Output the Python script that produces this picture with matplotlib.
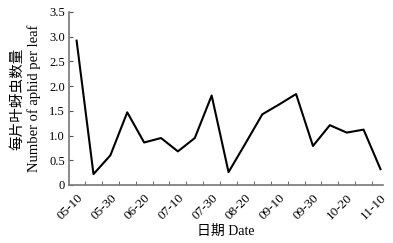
import matplotlib
matplotlib.use("Agg")
import numpy as np
import matplotlib.pyplot as plt

plt.rcParams['font.family'] = ['Liberation Serif', 'Noto Sans CJK SC']

dates = ['05-10', '05-20', '05-30', '06-10', '06-20', '06-30', '07-10', '07-20',
         '07-30', '08-10', '08-20', '08-30', '09-10', '09-20', '09-30', '10-10',
         '10-20', '10-30', '11-10']
aphids = [2.92, 0.22, 0.60, 1.47, 0.86, 0.95, 0.68, 0.95, 1.81, 0.26,
          0.84, 1.43, 1.63, 1.84, 0.79, 1.21, 1.06, 1.12, 0.32]
yticks = [0, 0.5, 1.0, 1.5, 2.0, 2.5, 3.0, 3.5]
ytick_labels = ['0', '0.5', '1.0', '1.5', '2.0', '2.5', '3.0', '3.5']

fig = plt.figure(figsize=(3.93, 2.43), dpi=100)
ax = fig.add_axes([0.1756, 0.2387, 0.799, 0.712])

x = np.arange(len(dates))
ax.plot(x, aphids, color='black', lw=1.5)

ax.set_xlim(-0.45, 18.15)
ax.set_ylim(0, 3.5)
ax.spines['right'].set_visible(False)
ax.spines['top'].set_visible(False)
for s in ['left', 'bottom']:
    ax.spines[s].set_color('#777777')
    ax.spines[s].set_linewidth(1.2)

ax.set_yticks(yticks)
ax.set_yticklabels(ytick_labels, fontsize=9)
ax.set_xticks(x[::2])
ax.set_xticklabels(dates[::2], fontsize=9.5, rotation=45, ha='right', va='top',
                   rotation_mode='anchor')
ax.set_xticks(x[:-1] + 0.5, minor=True)
ax.tick_params(axis='x', which='major', length=0, pad=5)
ax.tick_params(axis='x', which='minor', direction='in', length=3, color='#555555')
ax.tick_params(axis='y', direction='in', length=3, color='#555555', pad=3)

ax.set_ylabel('每片叶蚜虫数量\nNumber of aphid per leaf', fontsize=10.5, linespacing=1.2)
ax.yaxis.set_label_coords(-0.09, 0.5)
ax.set_xlabel('日期 Date', fontsize=10, labelpad=2)

fig.savefig('out.png', dpi=100)
